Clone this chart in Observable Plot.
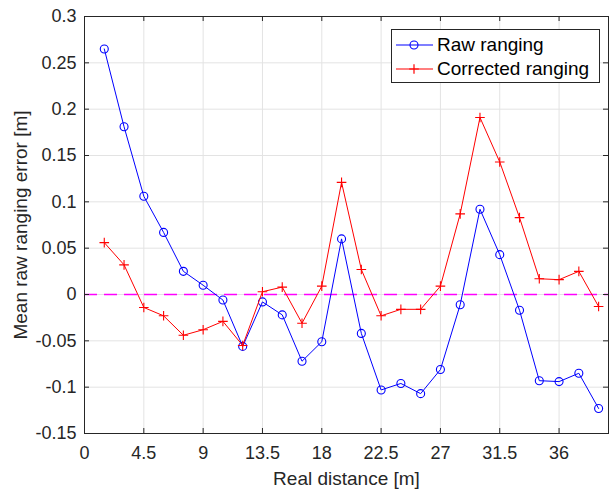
<!DOCTYPE html>
<html>
<head>
<meta charset="utf-8">
<script src="https://cdn.jsdelivr.net/npm/d3@7"></script>
<script src="https://cdn.jsdelivr.net/npm/@observablehq/plot@0.6"></script>
<style>
  html, body { margin: 0; padding: 0; background: #fff; }
  #wrap { position: relative; width: 609px; height: 492px; font-family: "Liberation Sans", Arial, sans-serif; }
  #legend { position: absolute; background: #fff; border: 1px solid #262626; box-sizing: border-box; }
  .lrow { position: absolute; left: 0; height: 24px; display: flex; align-items: center; }
  .lrow span { font-size: 19px; color: #000; margin-left: 4px; white-space: nowrap; }
</style>
</head>
<body>
<div id="wrap"></div>
<script>
// ---- data ----
const distances = [1.5, 3, 4.5, 6, 7.5, 9, 10.5, 12, 13.5, 15, 16.5, 18, 19.5, 21, 22.5, 24, 25.5, 27, 28.5, 30, 31.5, 33, 34.5, 36, 37.5, 39];
const rawRanging = [0.265, 0.181, 0.106, 0.067, 0.025, 0.010, -0.006, -0.056, -0.008, -0.022, -0.072, -0.051, 0.060, -0.042, -0.103, -0.096, -0.107, -0.081, -0.011, 0.092, 0.043, -0.017, -0.093, -0.094, -0.085, -0.123];
const correctedRanging = [0.056, 0.032, -0.014, -0.023, -0.044, -0.038, -0.029, -0.055, 0.003, 0.008, -0.031, 0.009, 0.121, 0.027, -0.023, -0.016, -0.016, 0.009, 0.087, 0.191, 0.143, 0.083, 0.017, 0.016, 0.025, -0.013];
const seriesNames = ["Raw ranging", "Corrected ranging"];
const seriesColors = ["#0000ff", "#ff0000"];
const seriesSymbols = ["circle", "plus"];
const xTicks = [0, 4.5, 9, 13.5, 18, 22.5, 27, 31.5, 36];
const yTicks = [-0.15, -0.1, -0.05, 0, 0.05, 0.1, 0.15, 0.2, 0.25, 0.3];
const xDomain = [0, 39.75];
const yDomain = [-0.15, 0.3];
const referenceLine = [0];
const xLabel = "Real distance [m]";
const yLabel = "Mean raw ranging error [m]";

// ---- layout ----
const W = 609, H = 492;
const mL = 84, mR = 1, mT = 16, mB = 59;
const axisColor = "#262626";
const gridColor = "#e3e3e3";
const tickPx = 5;
const xTickLen = (xDomain[1] - xDomain[0]) * tickPx / (W - mL - mR);
const yTickLen = (yDomain[1] - yDomain[0]) * tickPx / (H - mT - mB);
const markerR = {circle: 4, plus: 3.2};

const rows = [];
seriesNames.forEach((name, s) => {
  const vals = s === 0 ? rawRanging : correctedRanging;
  distances.forEach((d, i) => rows.push({series: name, x: d, y: vals[i]}));
});

const marks = [
  Plot.gridX(xTicks, {stroke: gridColor, strokeOpacity: 1}),
  Plot.gridY(yTicks, {stroke: gridColor, strokeOpacity: 1}),
  Plot.ruleY(referenceLine, {stroke: "#ff00ff", strokeWidth: 1.5, strokeDasharray: "13,7"}),
];
seriesNames.forEach((name, s) => {
  const data = rows.filter(r => r.series === name);
  marks.push(Plot.line(data, {x: "x", y: "y", stroke: seriesColors[s], strokeWidth: 1}));
  marks.push(Plot.dot(data, {x: "x", y: "y", stroke: seriesColors[s], strokeWidth: 1.1, fill: "none",
    symbol: seriesSymbols[s], r: markerR[seriesSymbols[s]]}));
});
marks.push(
  // inward ticks on all four sides
  Plot.ruleX(xTicks, {x: d => d, y1: yDomain[0], y2: yDomain[0] + yTickLen, stroke: axisColor}),
  Plot.ruleX(xTicks, {x: d => d, y1: yDomain[1], y2: yDomain[1] - yTickLen, stroke: axisColor}),
  Plot.ruleY(yTicks, {y: d => d, x1: xDomain[0], x2: xDomain[0] + xTickLen, stroke: axisColor}),
  Plot.ruleY(yTicks, {y: d => d, x1: xDomain[1], x2: xDomain[1] - xTickLen, stroke: axisColor}),
  Plot.frame({stroke: axisColor, strokeWidth: 1}),
  Plot.axisX(xTicks, {tickSize: 0, tickPadding: 13, fontSize: 18, color: axisColor, tickFormat: d => String(d), label: null}),
  Plot.axisY(yTicks, {tickSize: 0, tickPadding: 8, fontSize: 18, color: axisColor, tickFormat: d => String(d), label: null}),
  Plot.text([xLabel], {text: d => d, frameAnchor: "bottom", dy: 45, textAnchor: "middle", lineAnchor: "middle", fontSize: 19, fill: axisColor}),
  Plot.text([yLabel], {text: d => d, frameAnchor: "left", dx: -64, rotate: -90, textAnchor: "middle", lineAnchor: "middle", fontSize: 19, fill: axisColor})
);

const chart = Plot.plot({
  width: W, height: H,
  marginLeft: mL, marginRight: mR, marginTop: mT, marginBottom: mB,
  style: {fontFamily: "'Liberation Sans', Arial, sans-serif", fontSize: "18px", color: axisColor, background: "#fff", overflow: "visible"},
  x: {domain: xDomain},
  y: {domain: yDomain},
  marks
});
const wrap = document.getElementById("wrap");
wrap.appendChild(chart);

// ---- legend (inside the plot, top right) ----
const legend = document.createElement("div");
legend.id = "legend";
Object.assign(legend.style, {left: "391px", top: "29px", width: "209px", height: "54px"});
seriesNames.forEach((name, s) => {
  const row = document.createElement("div");
  row.className = "lrow";
  row.style.top = (3 + s * 24) + "px";
  const sw = d3.create("svg").attr("width", 41).attr("height", 24);
  sw.append("line").attr("x1", 4).attr("x2", 41).attr("y1", 12).attr("y2", 12)
    .attr("stroke", seriesColors[s]).attr("stroke-width", 1.2);
  if (seriesSymbols[s] === "circle") {
    sw.append("circle").attr("cx", 22).attr("cy", 12).attr("r", markerR.circle).attr("fill", "none").attr("stroke", seriesColors[s]).attr("stroke-width", 1.1);
  } else {
    sw.append("path").attr("d", d3.symbol(d3.symbolPlus, Math.PI * markerR.plus * markerR.plus)()).attr("transform", "translate(22,12)")
      .attr("fill", "none").attr("stroke", seriesColors[s]).attr("stroke-width", 1.2);
  }
  row.appendChild(sw.node());
  const label = document.createElement("span");
  label.textContent = name;
  row.appendChild(label);
  legend.appendChild(row);
});
wrap.appendChild(legend);
</script>
</body>
</html>
